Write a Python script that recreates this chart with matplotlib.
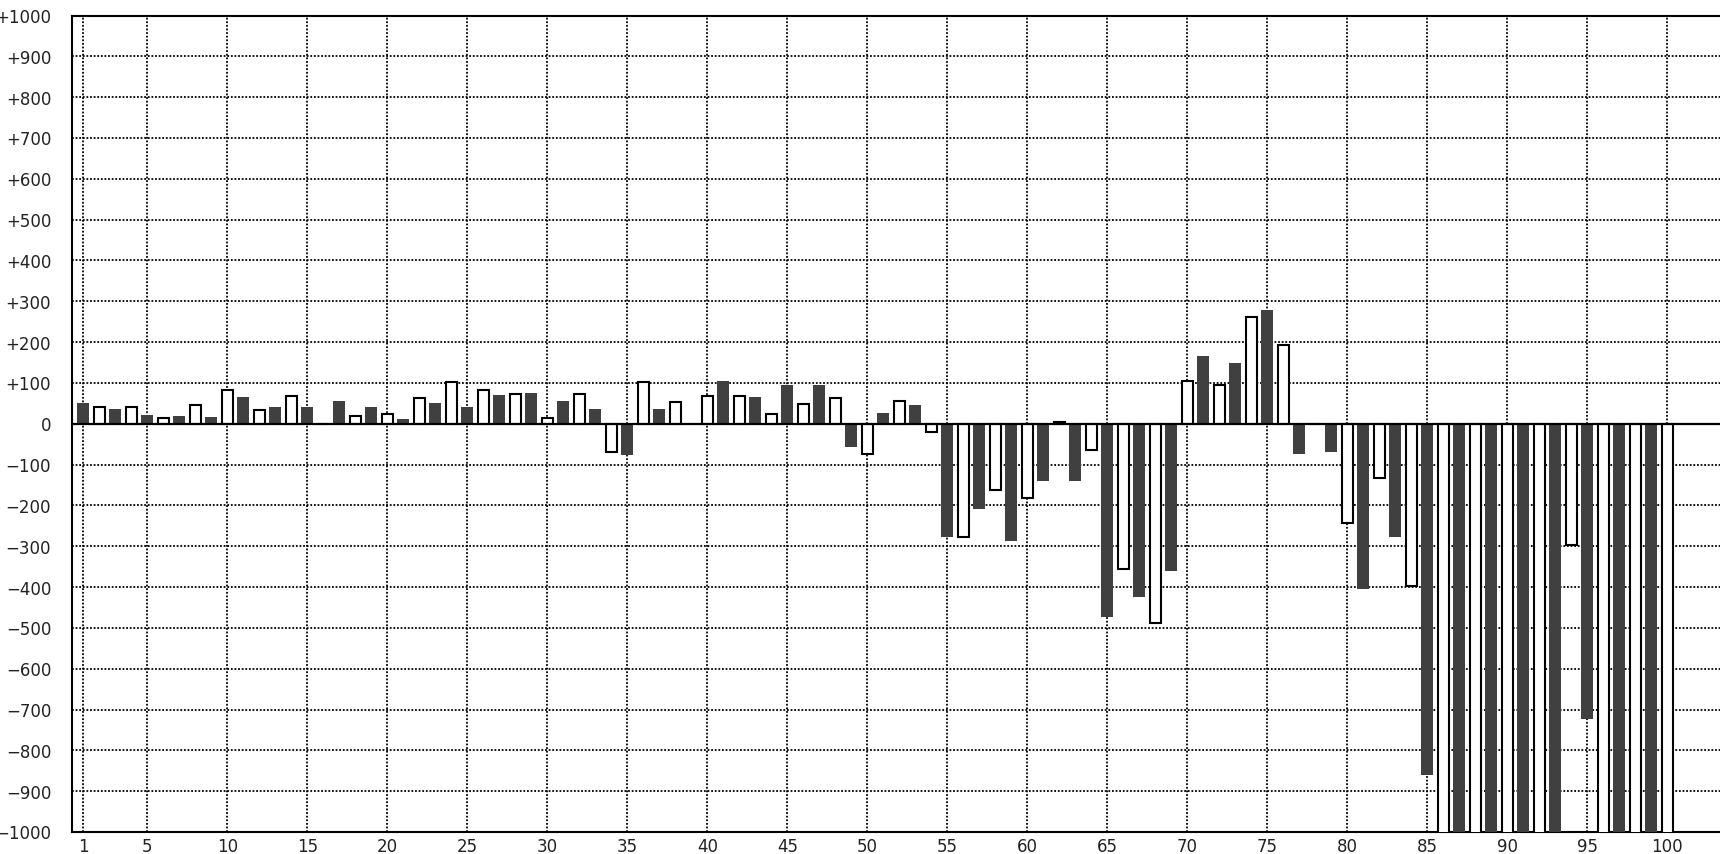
import matplotlib
matplotlib.use('Agg')
import matplotlib.pyplot as plt

# bar values, index 1..100 (bars past -1000 are cut off by the axis)
positions = list(range(1, 101))
values = [
    50, 40, 36, 40, 21, 15, 20, 45, 16, 83,
    65, 34, 40, 69, 40, 0, 55, 19, 40, 25,
    11, 63, 50, 103, 40, 83, 70, 73, 75, 14,
    55, 73, 36, -70, -77, 103, 36, 54, 0, 68,
    104, 68, 65, 25, 96, 49, 96, 64, -56, -75,
    27, 55, 47, -20, -277, -277, -209, -163, -287, -183,
    -140, 5, -140, -65, -474, -355, -425, -487, -361, 105,
    165, 95, 150, 261, 278, 192, -75, 0, -70, -242,
    -405, -133, -277, -398, -861, -1100, -1100, -1100, -1100, -1100,
    -1100, -1100, -1100, -298, -724, -1100, -1100, -1100, -1100, -1100,
]
x_ticks = [1, 5, 10, 15, 20, 25, 30, 35, 40, 45, 50, 55, 60, 65, 70, 75, 80, 85, 90, 95, 100]
y_ticks = list(range(-1000, 1001, 100))

def y_label(v):
    if v > 0:
        return f'+{v}'
    if v < 0:
        return f'\u2212{-v}'
    return '0'

fig = plt.figure(figsize=(17.2, 8.545), dpi=100)
ax = fig.add_axes([72 / 1720, 22 / 854, 1 - 72 / 1720, (832 - 16) / 854])

# odd positions: dark filled, even positions: white with black outline
odd_x = positions[0::2]
odd_v = values[0::2]
even_x = positions[1::2]
even_v = values[1::2]
ax.bar(odd_x, odd_v, width=0.75, color='#404040', edgecolor='none', zorder=3)
ax.bar(even_x, even_v, width=0.72, color='white', edgecolor='black', linewidth=1.5, zorder=3)
ax.axhline(0, color='black', linewidth=1.6, zorder=4)

ax.set_xlim(0.294, 103.29)
ax.set_ylim(-1000, 1000)
ax.set_xticks(x_ticks)
ax.set_xticklabels([str(t) for t in x_ticks])
ax.set_yticks(y_ticks)
ax.set_yticklabels([y_label(v) for v in y_ticks])
ax.tick_params(axis='both', length=0, labelsize=12, colors='#222222')
ax.tick_params(axis='y', pad=15)
ax.tick_params(axis='x', pad=4)

ax.grid(True, color='black', linestyle=(0, (1, 1)), linewidth=1.3, zorder=0)
ax.set_axisbelow(True)

for side in ['left', 'top', 'bottom']:
    ax.spines[side].set_linewidth(1.5)
    ax.spines[side].set_color('black')
ax.spines['right'].set_visible(False)

plt.savefig('out.png', dpi=100)
